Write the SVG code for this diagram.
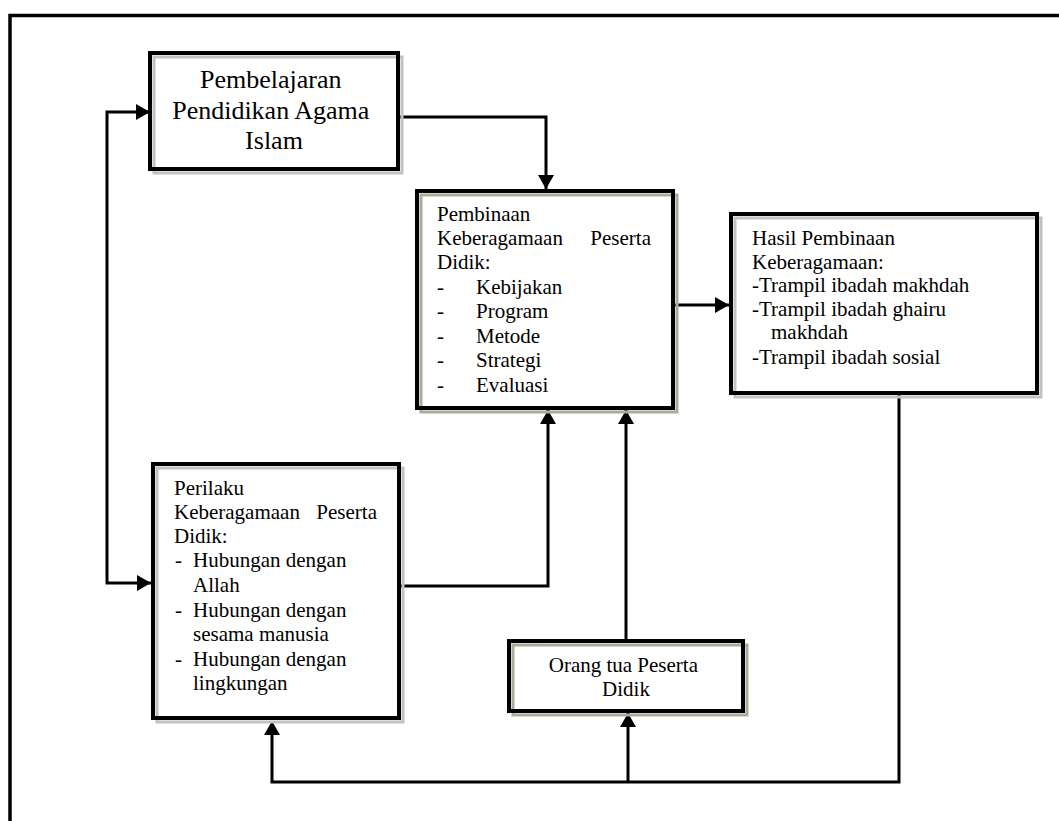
<svg xmlns="http://www.w3.org/2000/svg" width="1059" height="821" viewBox="0 0 1059 821">
<style>
  .t { font-family: "Liberation Serif", "Times New Roman", serif; fill: #000; }
  .big { font-size: 26px; }
  .sm { font-size: 21px; }
  .box { fill: none; stroke: #000; stroke-width: 4; }
  .shg { fill: none; stroke: #c2c2c2; stroke-width: 3; }
  .shn { fill: none; stroke: #a8ad96; stroke-width: 3; }
  .con { fill: none; stroke: #000; stroke-width: 3; }
</style>
<defs>
  <marker id="arr" viewBox="0 0 14 16" refX="14" refY="8" markerWidth="14" markerHeight="16" markerUnits="userSpaceOnUse" orient="auto-start-reverse">
    <path d="M0,0 L14,8 L0,16 z" fill="#000"/>
  </marker>
</defs>
<rect width="1059" height="821" fill="#fff"/>
<!-- outer frame -->
<path d="M10,821 V15.5 H1059" fill="none" stroke="#000" stroke-width="3.5"/>

<g id="connectors">
  <path class="con" d="M150,112 H107 V583 H151" marker-start="url(#arr)" marker-end="url(#arr)"/>
  <path class="con" d="M398,117 H546 V189" marker-end="url(#arr)"/>
  <path class="con" d="M673,305 H729" marker-end="url(#arr)"/>
  <path class="con" d="M399,586 H548 V410" marker-end="url(#arr)"/>
  <path class="con" d="M626,641 V410" marker-end="url(#arr)"/>
  <path class="con" d="M899,393 V782 H272 V721" marker-end="url(#arr)"/>
  <path class="con" d="M628,782 V713" marker-end="url(#arr)"/>
</g>

<g id="node-pembelajaran">
  <rect class="shg" x="154" y="57" width="248" height="116"/>
  <rect class="box" x="150" y="53" width="248" height="116"/>
  <text class="t big" text-anchor="middle">
    <tspan x="274" y="88">Pembelajaran</tspan>
    <tspan x="274" y="119">Pendidikan Agama</tspan>
    <tspan x="274" y="149">Islam</tspan>
  </text>
</g>

<g id="node-pembinaan">
  <rect class="shn" x="421" y="195" width="256" height="217"/>
  <rect class="box" x="417" y="191" width="256" height="217"/>
  <text class="t sm">
    <tspan x="437" y="221">Pembinaan</tspan>
    <tspan x="437" y="245">Keberagamaan</tspan>
    <tspan x="437" y="269">Didik:</tspan>
    <tspan x="437" y="294">-</tspan>
    <tspan x="437" y="318">-</tspan>
    <tspan x="437" y="343">-</tspan>
    <tspan x="437" y="367">-</tspan>
    <tspan x="437" y="392">-</tspan>
  </text>
  <text class="t sm" x="651" y="245" text-anchor="end">Peserta</text>
  <text class="t sm">
    <tspan x="476" y="294">Kebijakan</tspan>
    <tspan x="476" y="318">Program</tspan>
    <tspan x="476" y="343">Metode</tspan>
    <tspan x="476" y="367">Strategi</tspan>
    <tspan x="476" y="392">Evaluasi</tspan>
  </text>
</g>

<g id="node-hasil">
  <rect class="shg" x="735" y="218" width="306" height="179"/>
  <rect class="box" x="731" y="214" width="306" height="179"/>
  <text class="t sm">
    <tspan x="752" y="245">Hasil Pembinaan</tspan>
    <tspan x="752" y="268.5">Keberagamaan:</tspan>
    <tspan x="752" y="292">-Trampil ibadah makhdah</tspan>
    <tspan x="752" y="315.5">-Trampil ibadah ghairu</tspan>
    <tspan x="771" y="339">makhdah</tspan>
    <tspan x="752" y="364">-Trampil ibadah sosial</tspan>
  </text>
</g>

<g id="node-perilaku">
  <rect class="shg" x="157" y="468" width="246" height="254"/>
  <rect class="box" x="153" y="464" width="246" height="254"/>
  <text class="t sm">
    <tspan x="174" y="495">Perilaku</tspan>
    <tspan x="174" y="519">Keberagamaan</tspan>
    <tspan x="174" y="543">Didik:</tspan>
    <tspan x="175" y="567">-</tspan>
    <tspan x="193" y="567">Hubungan dengan</tspan>
    <tspan x="193" y="592">Allah</tspan>
    <tspan x="175" y="617">-</tspan>
    <tspan x="193" y="617">Hubungan dengan</tspan>
    <tspan x="193" y="641">sesama manusia</tspan>
    <tspan x="175" y="666">-</tspan>
    <tspan x="193" y="666">Hubungan dengan</tspan>
    <tspan x="193" y="690">lingkungan</tspan>
  </text>
  <text class="t sm" x="377" y="519" text-anchor="end">Peserta</text>
</g>

<g id="node-orangtua">
  <rect class="shn" x="513" y="645" width="234" height="70"/>
  <rect class="box" x="509" y="641" width="234" height="70"/>
  <text class="t sm" text-anchor="middle">
    <tspan x="626" y="672">Orang tua Peserta</tspan>
    <tspan x="626" y="696">Didik</tspan>
  </text>
</g>
</svg>
